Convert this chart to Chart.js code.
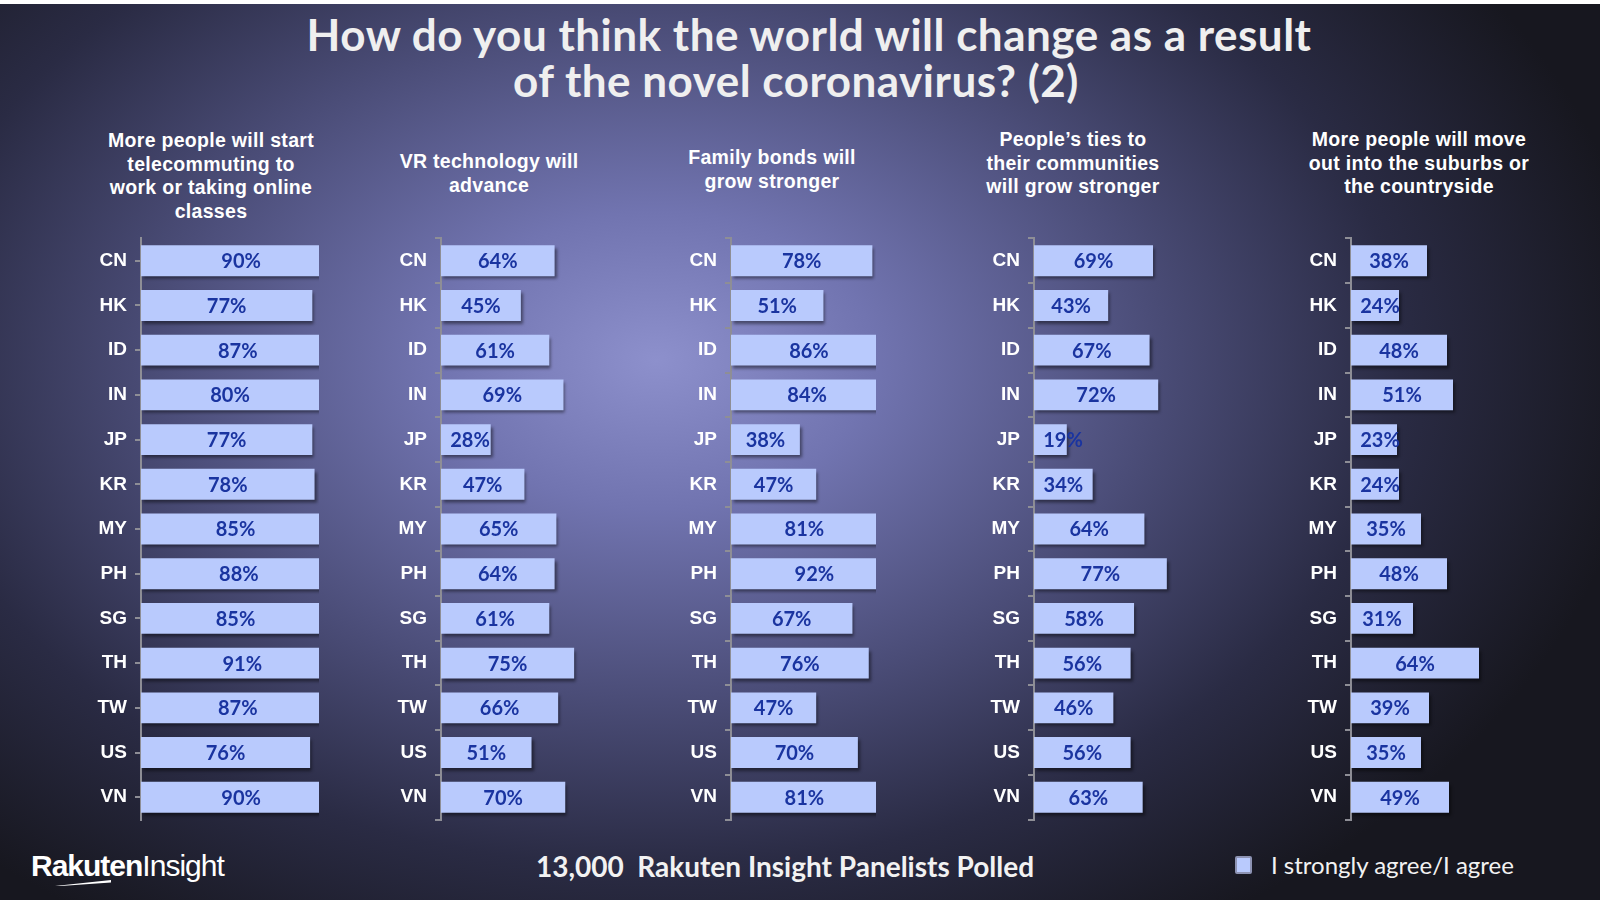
<!DOCTYPE html>
<html>
<head>
<meta charset="utf-8">
<script src="https://cdn.jsdelivr.net/npm/chart.js@4"></script>
<style>
  html, body { margin: 0; padding: 0; }
  body {
    width: 1600px; height: 900px; overflow: hidden; position: relative;
    background: radial-gradient(ellipse 62% 75% at 41% 40%, #8d90cc 0%, #7174b0 22%, #4b4d78 50%, #2a2b44 75%, #17171f 100%);
    font-family: "Liberation Sans", Arial, sans-serif;
  }
  #topbar { position: absolute; left: 0; top: 0; width: 1600px; height: 4px; background: #fff; }
  .title {
    position: absolute; width: 1200px; text-align: center; white-space: nowrap;
    color: #efefef; font-family: Lato, sans-serif; font-weight: 700; font-size: 44px; line-height: 46px;
    letter-spacing: 0.5px;
  }
  .ptitle {
    position: absolute; width: 300px; text-align: center; color: #fff;
    font-weight: 700; font-size: 19.5px; line-height: 23.6px; letter-spacing: 0.3px;
  }
  .panel { position: absolute; }
  #footer {
    position: absolute; left: 485px; top: 850px; width: 600px; text-align: center; color: #f2f2f2;
    font-family: Lato, sans-serif; font-weight: 700; font-size: 28px; line-height: 32px; white-space: pre;
  }
  #logo { position: absolute; left: 31px; top: 848px; color: #fff; font-family: "Liberation Sans Narrow", "Liberation Sans", sans-serif; font-size: 30px; line-height: 36px; letter-spacing: -1px; }
  #logo b { font-weight: 700; }
  #logo span { font-weight: 400; }
  #swoosh { position: absolute; left: 55px; top: 880px; width: 56px; height: 6px; background: #fff; clip-path: polygon(0 100%, 100% 0, 100% 40%, 10% 100%); }
  #legend { position: absolute; left: 1235px; top: 850px; color: #f2f2f2; font-family: Lato, sans-serif; font-size: 24px; line-height: 30px; }
  #legend i { position: absolute; left: 0; top: 6px; width: 13px; height: 14px; background: #b9cafd; border: 2px solid #8d93b3; border-radius: 2px; }
  #legend span { position: absolute; left: 36px; top: 0; white-space: nowrap; }
</style>
</head>
<body>
<div id="topbar"></div>
<div class="title" style="left:209px; top:11px;">How do you think the world will change as a result</div>
<div class="title" style="left:196px; top:57px;">of the novel coronavirus? (2)</div>

<div class="ptitle" style="left:61px; top:129px;">More people will start<br>telecommuting to<br>work or taking online<br>classes</div>
<div class="ptitle" style="left:339px; top:150px;">VR technology will<br>advance</div>
<div class="ptitle" style="left:622px; top:146px;">Family bonds will<br>grow stronger</div>
<div class="ptitle" style="left:923px; top:128px;">People’s ties to<br>their communities<br>will grow stronger</div>
<div class="ptitle" style="left:1269px; top:128px;">More people will move<br>out into the suburbs or<br>the countryside</div>

<canvas id="c0" class="panel"></canvas>
<canvas id="c1" class="panel"></canvas>
<canvas id="c2" class="panel"></canvas>
<canvas id="c3" class="panel"></canvas>
<canvas id="c4" class="panel"></canvas>

<div id="logo"><b>Rakuten</b><span>Insight</span></div>
<div id="swoosh"></div>
<div id="footer">13,000  Rakuten Insight Panelists Polled</div>
<div id="legend"><i></i><span>I strongly agree/I agree</span></div>

<script>
// data
const countries = ['CN', 'HK', 'ID', 'IN', 'JP', 'KR', 'MY', 'PH', 'SG', 'TH', 'TW', 'US', 'VN'];
const telecommute   = [90, 77, 87, 80, 77, 78, 85, 88, 85, 91, 87, 76, 90];
const vrTech        = [64, 45, 61, 69, 28, 47, 65, 64, 61, 75, 66, 51, 70];
const familyBonds   = [78, 51, 86, 84, 38, 47, 81, 92, 67, 76, 47, 70, 81];
const communityTies = [69, 43, 67, 72, 19, 34, 64, 77, 58, 56, 46, 56, 63];
const moveSuburbs   = [38, 24, 48, 51, 23, 24, 35, 48, 31, 64, 39, 35, 49];
const seriesLabel = 'I strongly agree/I agree';
const axisMax = 80;

// panel placement: x of the value axis and pixels per percent
const panels = [
    { id: 'c0', values: telecommute,   axisX: 141,  pxPer: 2.24, centerTicks: true },
    { id: 'c1', values: vrTech,        axisX: 441,  pxPer: 1.795 },
    { id: 'c2', values: familyBonds,   axisX: 731,  pxPer: 1.83 },
    { id: 'c3', values: communityTies, axisX: 1034, pxPer: 1.745 },
    { id: 'c4', values: moveSuburbs,   axisX: 1351, pxPer: 2.02 }
];

const LABEL_W = 70;   // room for the country labels
const PAD_R = 40;
const AREA_TOP = 238;
const AREA_H = 581;
const MIN_LABEL_OFF = 29; // short bars: keep the label off the axis

// shadow under bars + value labels centred on the (unclipped) bar
const barLabels = {
    id: 'barLabels',
    beforeDatasetsDraw(chart) {
        const ctx = chart.ctx;
        ctx.save();
        ctx.shadowColor = 'rgba(0, 0, 0, 0.45)';
        ctx.shadowOffsetX = 2;
        ctx.shadowOffsetY = 3;
        ctx.shadowBlur = 3;
    },
    afterDatasetsDraw(chart) {
        const ctx = chart.ctx;
        ctx.restore();
        const xScale = chart.scales.x;
        const meta = chart.getDatasetMeta(0);
        ctx.save();
        ctx.font = 'bold 20px Lato, sans-serif';
        ctx.fillStyle = '#1a34a0';
        ctx.textAlign = 'center';
        ctx.textBaseline = 'middle';
        meta.data.forEach((bar, i) => {
            const v = chart.data.datasets[0].data[i];
            const x = Math.max(xScale.getPixelForValue(v / 2), chart.chartArea.left + MIN_LABEL_OFF);
            ctx.fillText(v + '%', x, bar.y + 1);
        });
        ctx.restore();
    }
};

panels.forEach(p => {
    const canvas = document.getElementById(p.id);
    const plotW = axisMax * p.pxPer;
    const w = LABEL_W + plotW + PAD_R;
    canvas.style.left = (p.axisX - LABEL_W) + 'px';
    canvas.width = w;
    canvas.height = AREA_H + 40;
    canvas.style.width = w + 'px';
    canvas.style.height = (AREA_H + 40) + 'px';

    const chart = new Chart(canvas, {
        type: 'bar',
        data: {
            labels: countries,
            datasets: [{
                label: seriesLabel,
                data: p.values,
                backgroundColor: '#b9cafd',
                borderWidth: 0,
                categoryPercentage: 1,
                barPercentage: 0.69
            }]
        },
        options: {
            indexAxis: 'y',
            responsive: false,
            animation: false,
            devicePixelRatio: 1,
            layout: { padding: { top: 4, bottom: 4, left: 0, right: PAD_R } },
            plugins: { legend: { display: false }, tooltip: { enabled: false } },
            scales: {
                x: { display: false, min: 0, max: axisMax },
                y: {
                    afterFit: scale => { scale.width = LABEL_W; },
                    border: { display: true, color: '#8e8e96', width: 2 },
                    grid: {
                        offset: !p.centerTicks,
                        drawOnChartArea: false,
                        drawTicks: true,
                        tickLength: 6,
                        color: '#8e8e96',
                        lineWidth: 2
                    },
                    ticks: {
                        color: '#ffffff',
                        padding: 8,
                        font: { family: 'Liberation Sans', weight: 'bold', size: 19 }
                    }
                }
            }
        },
        plugins: [barLabels]
    });

    // grow the canvas so the plot area gets the wanted height, then place it
    const extra = canvas.height - (chart.chartArea.bottom - chart.chartArea.top);
    const h = Math.round(AREA_H + extra);
    canvas.style.height = h + 'px';
    chart.resize(w, h);
    canvas.style.top = (AREA_TOP - chart.chartArea.top) + 'px';
});
</script>
</body>
</html>
